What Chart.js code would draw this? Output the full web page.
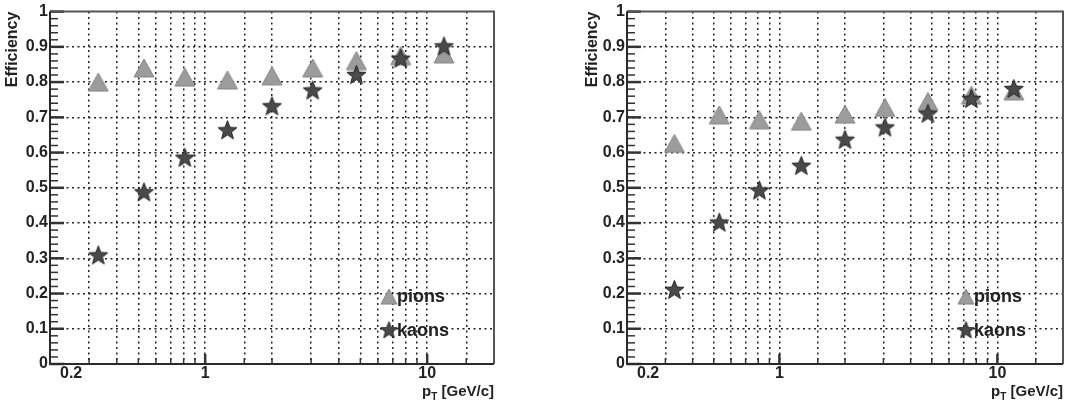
<!DOCTYPE html>
<html>
<head>
<meta charset="utf-8">
<script src="https://cdn.jsdelivr.net/npm/chart.js@4/dist/chart.umd.min.js"></script>
<style>
  body { margin: 0; background: #fff; }
  #wrap { display: flex; width: 1074px; height: 406px; }
  canvas { display: block; }
</style>
</head>
<body>
<div id="wrap">
  <canvas id="graficoEsq" width="537" height="406"></canvas>
  <canvas id="graficoDir" width="537" height="406"></canvas>
</div>
<script>
// valores (pT em GeV/c, eficiencia)
const ptBins = [0.33, 0.53, 0.81, 1.26, 2.0, 3.05, 4.8, 7.6, 11.9];

const pionsEsq = [0.800, 0.840, 0.814, 0.806, 0.818, 0.840, 0.861, 0.875, 0.880];
const kaonsEsq = [0.307, 0.486, 0.584, 0.662, 0.730, 0.775, 0.819, 0.865, 0.900];

const pionsDir = [0.626, 0.707, 0.693, 0.689, 0.709, 0.728, 0.745, 0.763, 0.775];
const kaonsDir = [0.209, 0.400, 0.491, 0.561, 0.635, 0.670, 0.709, 0.751, 0.779];

const xLabels = [0.2, 1, 10];
const legendas = ['pions', 'kaons'];

const FONTE = '"Liberation Sans", Arial, Helvetica, sans-serif';
const COR_TEXTO = '#222';

function criarTriangulo(w, h, fill, stroke) {
  const c = document.createElement('canvas');
  c.width = w + 2; c.height = h + 2;
  const g = c.getContext('2d');
  g.beginPath();
  g.moveTo(1, h + 1);
  g.lineTo(w + 1, h + 1);
  g.lineTo(w / 2 + 1, 1);
  g.closePath();
  g.fillStyle = fill;
  g.fill();
  g.strokeStyle = stroke;
  g.lineWidth = 1;
  g.stroke();
  return c;
}

function criarEstrela(r, fill, stroke) {
  const s = Math.ceil(r * 2 + 3);
  const c = document.createElement('canvas');
  c.width = s; c.height = s;
  const g = c.getContext('2d');
  g.beginPath();
  for (let i = 0; i < 10; i++) {
    const rad = i % 2 === 0 ? r : r * 0.42;
    const ang = -Math.PI / 2 + i * Math.PI / 5;
    const px = s / 2 + rad * Math.cos(ang);
    const py = s / 2 + rad * Math.sin(ang);
    if (i === 0) g.moveTo(px, py); else g.lineTo(px, py);
  }
  g.closePath();
  g.fillStyle = fill;
  g.fill();
  g.strokeStyle = stroke;
  g.lineWidth = 1;
  g.stroke();
  return c;
}

const triGrande = criarTriangulo(20, 18, '#9c9c9c', '#858585');
const estGrande = criarEstrela(10, '#4a4a4a', '#222');
const triPequeno = criarTriangulo(16, 15, '#9c9c9c', '#858585');
const estPequena = criarEstrela(9, '#4a4a4a', '#222');

function perto(a, b) { return Math.abs(a - b) < 1e-6 * Math.max(1, Math.abs(b)); }
function ehDecada(v) { return perto(Math.log10(v), Math.round(Math.log10(v))); }

// moldura, marcas internas, rotulos do eixo x e legenda no estilo ROOT
const molduraRoot = {
  id: 'molduraRoot',
  afterDraw(chart) {
    const { ctx, chartArea: a, scales: { x, y } } = chart;
    ctx.save();
    ctx.setLineDash([]);
    ctx.strokeStyle = '#333';

    // marcas do eixo y (0.02 menores, 0.1 maiores)
    for (let i = 0; i <= 50; i++) {
      const py = y.getPixelForValue(i / 50);
      const major = i % 5 === 0;
      ctx.lineWidth = major ? 2.5 : 1.5;
      ctx.beginPath();
      ctx.moveTo(a.left, py);
      ctx.lineTo(a.left + (major ? 14 : 8), py);
      ctx.stroke();
    }

    // marcas do eixo x
    x.ticks.forEach(t => {
      const px = x.getPixelForValue(t.value);
      if (px <= a.left + 1 || px >= a.right - 1) return;
      const major = ehDecada(t.value);
      ctx.lineWidth = major ? 2.5 : 1.5;
      ctx.beginPath();
      ctx.moveTo(px, a.bottom);
      ctx.lineTo(px, a.bottom - (major ? 10 : 6));
      ctx.stroke();
    });

    // moldura
    ctx.lineWidth = 2;
    ctx.strokeStyle = '#555';
    ctx.beginPath();
    ctx.moveTo(a.left, a.top);
    ctx.lineTo(a.right, a.top);
    ctx.lineTo(a.right, a.bottom);
    ctx.stroke();
    ctx.strokeStyle = '#2a2a2a';
    ctx.beginPath();
    ctx.moveTo(a.left, a.top);
    ctx.lineTo(a.left, a.bottom);
    ctx.lineTo(a.right, a.bottom);
    ctx.stroke();

    // rotulos do eixo x
    ctx.fillStyle = COR_TEXTO;
    ctx.font = 'bold 16px ' + FONTE;
    ctx.textBaseline = 'middle';
    xLabels.forEach(v => {
      const txt = String(v);
      const w = ctx.measureText(txt).width;
      let px = x.getPixelForValue(v) - w / 2;
      if (px < a.left + 10) px = a.left + 10;
      ctx.textAlign = 'left';
      ctx.fillText(txt, px, a.bottom + 10);
    });

    // titulo do eixo x: p_T [GeV/c]
    const resto = ' [GeV/c]';
    ctx.font = 'bold 15px ' + FONTE;
    const wResto = ctx.measureText(resto).width;
    const wP = ctx.measureText('p').width;
    ctx.font = 'bold 10px ' + FONTE;
    const wT = ctx.measureText('T').width;
    const xt = a.right - wResto - wT - wP;
    const yt = a.bottom + 28;
    ctx.textAlign = 'left';
    ctx.font = 'bold 15px ' + FONTE;
    ctx.fillText('p', xt, yt);
    ctx.font = 'bold 10px ' + FONTE;
    ctx.fillText('T', xt + wP, yt + 5);
    ctx.font = 'bold 15px ' + FONTE;
    ctx.fillText(resto, xt + wP + wT, yt);

    // legenda
    const lx = a.left + 347;
    const ly = [a.top + 285, a.top + 319];
    const marcas = [triPequeno, estPequena];
    ctx.font = 'bold 18px ' + FONTE;
    legendas.forEach((nome, i) => {
      const m = marcas[i];
      ctx.drawImage(m, lx - 8 - m.width / 2, ly[i] - m.height / 2);
      ctx.fillText(nome, lx, ly[i]);
    });

    ctx.restore();
  }
};

function criarGrafico(id, pions, kaons, padEsq, padDir, padTitulo) {
  const ctx = document.getElementById(id).getContext('2d');
  new Chart(ctx, {
    type: 'scatter',
    data: {
      datasets: [{
        label: 'kaons',
        data: ptBins.map((p, i) => ({ x: p, y: kaons[i] })),
        pointStyle: estGrande,
        pointRadius: 10
      }, {
        label: 'pions',
        data: ptBins.map((p, i) => ({ x: p, y: pions[i] })),
        pointStyle: triGrande,
        pointRadius: 10
      }]
    },
    options: {
      responsive: false,
      animation: false,
      devicePixelRatio: 1,
      layout: { padding: { top: 6, left: padEsq, right: padDir, bottom: 0 } },
      plugins: {
        legend: { display: false },
        tooltip: { enabled: false }
      },
      scales: {
        x: {
          type: 'logarithmic',
          min: 0.2,
          max: 20,
          afterFit: s => { s.height = 42; },
          ticks: { display: false, autoSkip: false },
          grid: {
            drawTicks: false,
            lineWidth: 1.5,
            color: c => (perto(c.tick.value, 0.2) || perto(c.tick.value, 20)) ? 'rgba(0,0,0,0)' : '#222'
          },
          border: { display: false, dash: [2, 3.5] }
        },
        y: {
          min: 0,
          max: 1,
          afterFit: s => { s.width = 50; },
          ticks: {
            stepSize: 0.1,
            padding: 2,
            color: COR_TEXTO,
            font: { family: FONTE, size: 16, weight: 'bold' },
            callback: v => String(Number(v.toFixed(2)))
          },
          title: {
            display: true,
            text: 'Efficiency',
            align: 'end',
            color: COR_TEXTO,
            padding: { top: padTitulo, bottom: 0 },
            font: { family: FONTE, size: 16, weight: 'bold' }
          },
          grid: {
            drawTicks: false,
            lineWidth: 1.5,
            color: c => (c.tick.value <= 0 || c.tick.value >= 1) ? 'rgba(0,0,0,0)' : '#222'
          },
          border: { display: false, dash: [2, 3.5] }
        }
      }
    },
    plugins: [molduraRoot]
  });
}

window.onload = () => {
  criarGrafico('graficoEsq', pionsEsq, kaonsEsq, 0, 43, 3);
  criarGrafico('graficoDir', pionsDir, kaonsDir, 40, 3, 6);
};
</script>
</body>
</html>
